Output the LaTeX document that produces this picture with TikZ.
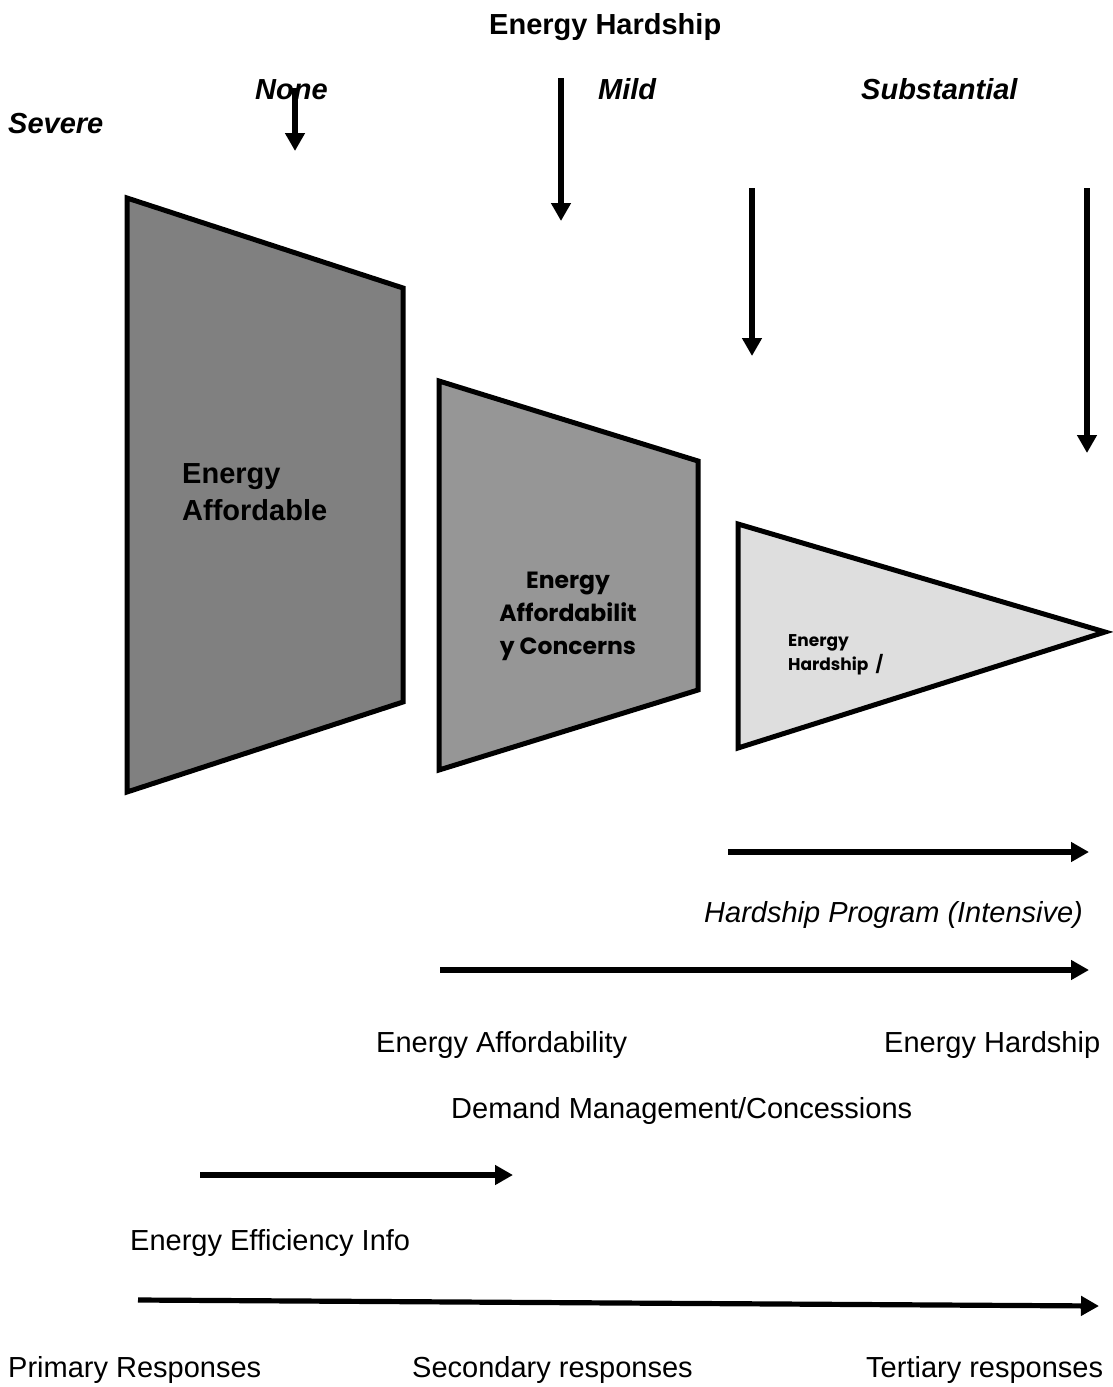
\documentclass[tikz,border=0pt]{standalone}
\usepackage{fontspec}
\setmainfont{Liberation Sans}
\newfontfamily\geofont{Poppins}
\usetikzlibrary{arrows.meta}
\definecolor{shadeA}{gray}{0.50}
\definecolor{shadeB}{gray}{0.59}
\definecolor{shadeC}{gray}{0.87}
\begin{document}
\begin{tikzpicture}[x=1pt,y=-1pt,
  arr/.style={line width=5.2pt,-{Triangle[length=18pt,width=19pt]}},
  funnel/.style={draw=black,line width=5pt,line join=miter},
  lbl/.style={anchor=base west,inner sep=0pt,font=\fontsize{29}{33}\selectfont},
  blbl/.style={lbl,font=\fontsize{29}{33}\selectfont\bfseries},
  bilbl/.style={lbl,font=\fontsize{29}{33}\selectfont\bfseries\itshape},
  ilbl/.style={lbl,font=\fontsize{29}{33}\selectfont\itshape},
  intext/.style={inner sep=0pt,align=center,font=\geofont\bfseries\fontsize{23.5}{33}\selectfont},
  smalltext/.style={inner sep=0pt,align=left,anchor=north west,font=\geofont\bfseries\fontsize{17}{24}\selectfont}]
\useasboundingbox (0,0) rectangle (1113,1387);

% headings
\node[blbl] (title) at (489,34) {Energy Hardship};
\node[bilbl] (none) at (255,99) {None};
\node[bilbl] (mild) at (598,99) {Mild};
\node[bilbl] (subst) at (861,99) {Substantial};
\node[bilbl] (severe) at (8,133) {Severe};

% vertical arrows
\coordinate (v1a) at (295,88);  \coordinate (v1b) at (295,151);
\coordinate (v2a) at (561,78);  \coordinate (v2b) at (561,221);
\coordinate (v3a) at (752,188); \coordinate (v3b) at (752,356);
\coordinate (v4a) at (1087,188); \coordinate (v4b) at (1087,453);
\draw[arr] (v1a) -- (v1b);
\draw[arr] (v2a) -- (v2b);
\draw[arr] (v3a) -- (v3b);
\draw[arr] (v4a) -- (v4b);

% funnel shapes
\draw[funnel,fill=shadeA] (127,198) -- (403,288) -- (403,702) -- (127,792) -- cycle;
\draw[funnel,fill=shadeB] (439,381) -- (698,461) -- (698,690) -- (439,770) -- cycle;
\draw[funnel,fill=shadeC] (738,524) -- (1105,632) -- (738,748) -- cycle;

\node[blbl,align=left,anchor=north west,font=\fontsize{29}{37}\selectfont\bfseries] (afford) at (182,463) {Energy\\Affordable};
\node[intext] (concern) at (568,616) {Energy\\Affordabilit\\y Concerns};
\node[smalltext] (hard) at (788,634) {Energy\\Hardship\ \ /};

% horizontal arrows and labels
\coordinate (h1a) at (728,852); \coordinate (h1b) at (1089,852);
\draw[arr] (h1a) -- (h1b);
\node[ilbl] (hp) at (704,922) {Hardship Program (Intensive)};

\coordinate (h2a) at (440,970); \coordinate (h2b) at (1089,970);
\draw[arr] (h2a) -- (h2b);
\node[lbl] (ea) at (376,1052) {Energy Affordability};
\node[lbl] (eh) at (884,1052) {Energy Hardship};
\node[lbl] (dm) at (451,1118) {Demand Management/Concessions};

\coordinate (h3a) at (200,1175); \coordinate (h3b) at (513,1175);
\draw[arr] (h3a) -- (h3b);
\node[lbl] (eei) at (130,1250) {Energy Efficiency Info};

\coordinate (h4a) at (138,1300); \coordinate (h4b) at (1099,1306);
\draw[arr] (h4a) -- (h4b);
\node[lbl] (pr) at (8,1377) {Primary Responses};
\node[lbl] (sr) at (412,1377) {Secondary responses};
\node[lbl] (tr) at (866,1377) {Tertiary responses};
\end{tikzpicture}
\end{document}
